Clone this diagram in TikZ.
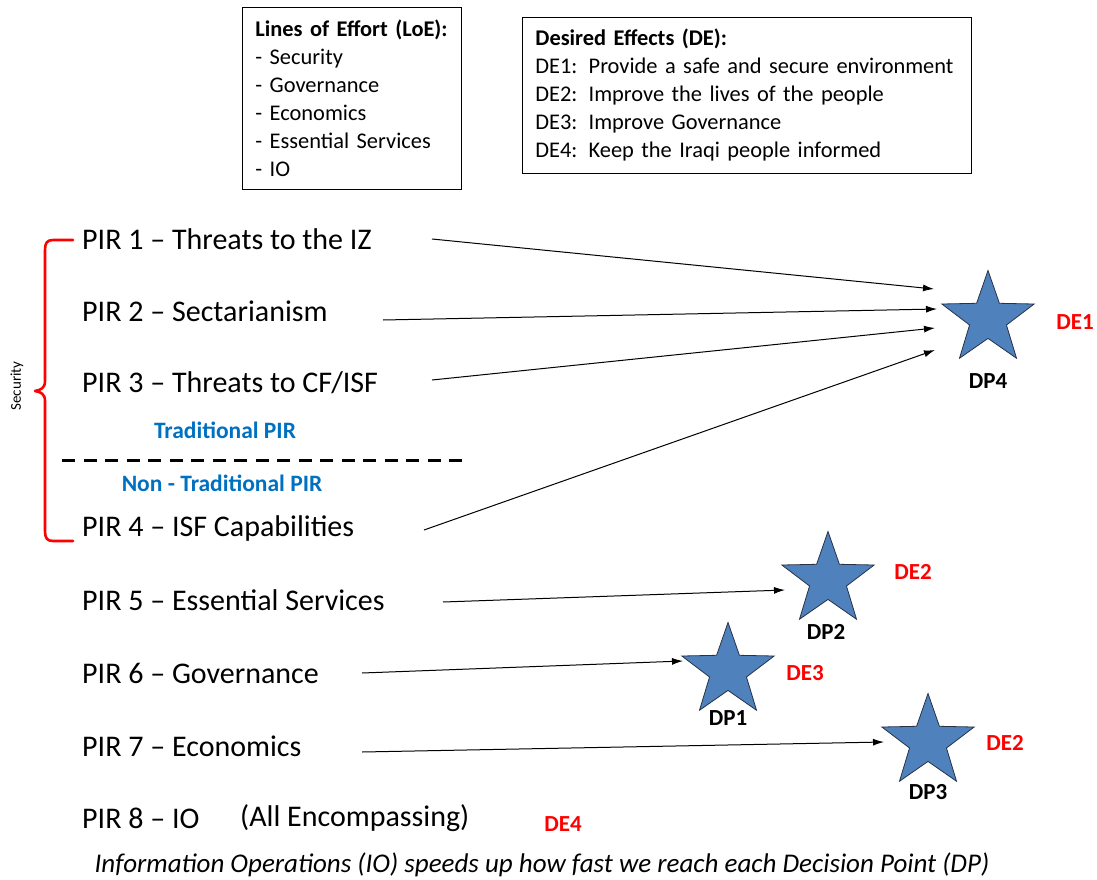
\documentclass[tikz,border=0pt]{standalone}
\usepackage{fontspec}
\setmainfont{Carlito}
\usetikzlibrary{shapes.geometric,arrows.meta}
\definecolor{starblue}{RGB}{79,129,189}
\definecolor{starline}{RGB}{40,50,70}
\definecolor{pirblue}{RGB}{0,112,192}
\begin{document}
\begin{tikzpicture}[x=1pt,y=-1pt,
  pir/.style={anchor=west,inner sep=0,font=\fontsize{30}{34}\selectfont},
  infobox/.style={draw,line width=0.8pt,anchor=north west,align=left,inner xsep=13pt,inner ysep=0pt,
    font=\fontsize{22.4}{28}\selectfont},
  dpstar/.style={star,star points=5,star point ratio=2.5,minimum size=97pt,inner sep=0pt,
    fill=starblue,draw=starline,line width=0.8pt},
  dplabel/.style={font=\bfseries\fontsize{23}{26}\selectfont,inner sep=0},
  delabel/.style={font=\bfseries\fontsize{23}{26}\selectfont,text=red,inner sep=0},
  bluelabel/.style={font=\bfseries\fontsize{23.5}{26}\selectfont,text=pirblue,inner sep=0},
  flow/.style={-{Latex[length=11pt,width=7pt]},line width=1pt}]
\useasboundingbox (0,0) rectangle (1097,880);

% legend boxes
\node[infobox,text width=193pt,minimum height=182pt] (loe) at (242,7)
  {\textbf{Lines of Effort (LoE):}\\- Security\\- Governance\\- Economics\\- Essential Services\\- IO};
\node[infobox,text width=423pt,minimum height=156pt] (de) at (522,17)
  {\textbf{Desired Effects (DE):}\\DE1: Provide a safe and secure environment\\DE2: Improve the lives of the people\\DE3: Improve Governance\\DE4: Keep the Iraqi people informed};

% priority intelligence requirements
\node[pir] (pir1) at (82,239) {PIR 1 – Threats to the IZ};
\node[pir] (pir2) at (82,311) {PIR 2 – Sectarianism};
\node[pir] (pir3) at (82,383) {PIR 3 – Threats to CF/ISF};
\node[pir] (pir4) at (82,528) {PIR 4 – ISF Capabilities};
\node[pir] (pir5) at (82,600) {PIR 5 – Essential Services};
\node[pir] (pir6) at (82,673) {PIR 6 – Governance};
\node[pir] (pir7) at (82,746) {PIR 7 – Economics};
\node[pir] (pir8) at (82,818) {PIR 8 – IO};
\node[pir] (pir8b) at (240,818) {(All Encompassing)};

% traditional / non-traditional split
\node[bluelabel] (trad) at (225,430) {Traditional PIR};
\node[bluelabel] (nontrad) at (222,483) {Non - Traditional PIR};
\draw[line width=3pt,dash pattern=on 13pt off 8.5pt] (62,460) -- (462,460);

% security brace
\draw[red,line width=2.6pt,line join=round,line cap=round]
  (73,240) -- (53,240) .. controls (47,240) and (45,243) .. (45,250) -- (45,381)
  .. controls (45,388) and (41,390) .. (35,391) .. controls (41,392) and (45,394) .. (45,401)
  -- (45,531) .. controls (45,538) and (47,541) .. (53,541) -- (73,541);
\node[rotate=90,font=\fontsize{15}{18}\selectfont,inner sep=0] (sec) at (17,386) {Security};

% decision points
\node[dpstar] (dp4) at (988,319) {};
\node[dpstar] (dp2) at (828,580) {};
\node[dpstar] (dp1) at (728,671) {};
\node[dpstar] (dp3) at (928,742) {};
\node[dplabel] (dp4l) at (988,381) {DP4};
\node[dplabel] (dp2l) at (826,632) {DP2};
\node[dplabel] (dp1l) at (728,718) {DP1};
\node[dplabel] (dp3l) at (928,792) {DP3};

% desired effects
\node[delabel] (de1) at (1075,322) {DE1};
\node[delabel] (de2a) at (913,572) {DE2};
\node[delabel] (de3) at (805,673) {DE3};
\node[delabel] (de2b) at (1005,743) {DE2};
\node[delabel] (de4) at (563,824) {DE4};

% arrow ends
\coordinate (s1) at (432,239); \coordinate (t1) at (934,289);
\coordinate (s2) at (383,320); \coordinate (t2) at (937,309);
\coordinate (s3) at (432,380); \coordinate (t3) at (935,328);
\coordinate (s4) at (424,530); \coordinate (t4) at (935,350);
\coordinate (s5) at (443,602); \coordinate (t5) at (785,590);
\coordinate (s6) at (362,673); \coordinate (t6) at (683,661);
\coordinate (s7) at (362,752); \coordinate (t7) at (884,742);
\foreach \i in {1,...,7} {\draw[flow] (s\i) -- (t\i);}

% caption
\node[font=\itshape\fontsize{27}{30}\selectfont,inner sep=0] (cap) at (542,865)
  {Information Operations (IO) speeds up how fast we reach each Decision Point (DP)};
\end{tikzpicture}
\end{document}
